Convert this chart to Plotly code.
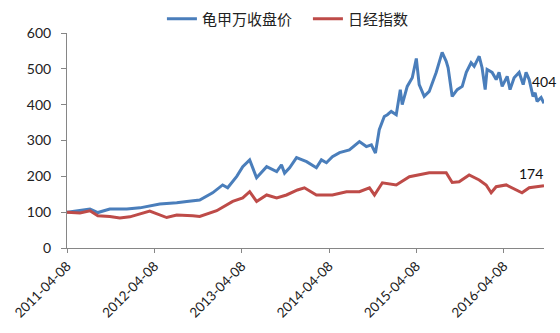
import plotly.graph_objects as go

blue_dates = ["2011-04-08","2011-04-20","2011-06-01","2011-07-13","2011-08-15","2011-10-04","2011-12-14",
              "2012-02-07","2012-04-30","2012-07-10","2012-08-21","2012-10-14","2012-12-07",
              "2013-01-18","2013-02-08","2013-03-18","2013-04-12","2013-05-11","2013-06-09","2013-07-21",
              "2013-09-01","2013-09-21","2013-10-04","2013-10-25","2013-11-23",
              "2014-01-04","2014-02-14","2014-03-07","2014-03-28","2014-04-22","2014-05-22","2014-07-02",
              "2014-08-13","2014-09-11","2014-10-02","2014-10-19","2014-11-04","2014-11-25","2014-12-08",
              "2014-12-24","2015-01-14","2015-01-31","2015-02-08","2015-03-01","2015-03-22","2015-04-08",
              "2015-04-20","2015-05-11","2015-06-01","2015-06-30","2015-07-25","2015-08-11","2015-08-19",
              "2015-09-05","2015-09-26","2015-10-17","2015-11-03","2015-11-23","2015-12-06","2015-12-27",
              "2016-01-08","2016-01-21","2016-01-29","2016-02-19","2016-03-07","2016-03-19","2016-04-01",
              "2016-04-22","2016-05-04","2016-05-21","2016-06-11","2016-06-28","2016-07-10","2016-07-23",
              "2016-08-08","2016-08-17","2016-08-25","2016-09-11","2016-09-23"]
blue_values = [100, 101, 104, 109, 99, 109, 109,
               112, 123, 126, 130, 134, 154,
               176, 168, 200, 227, 246, 196, 227,
               213, 232, 209, 224, 252,
               241, 224, 246, 238, 255, 266, 274,
               297, 283, 288, 265, 330, 367, 372,
               381, 372, 442, 400, 451, 475, 529,
               456, 423, 437, 490, 546, 521, 503,
               423, 442, 451, 490, 517, 507, 535,
               503, 442, 498, 490, 470, 490, 451,
               479, 442, 475, 490, 456, 490, 470,
               423, 433, 409, 420, 404]

red_dates = ["2011-04-08","2011-06-01","2011-07-13","2011-08-15","2011-10-04","2011-11-15","2011-12-27",
             "2012-03-19","2012-05-29","2012-07-10","2012-09-15","2012-10-14","2012-12-24",
             "2013-03-01","2013-04-12","2013-05-11","2013-06-09","2013-07-21","2013-09-01","2013-10-12",
             "2013-11-27","2013-12-26","2014-02-14","2014-04-22","2014-06-20","2014-08-13","2014-09-24",
             "2014-10-15","2014-11-17","2015-01-14","2015-03-10","2015-06-01","2015-08-11","2015-09-05",
             "2015-10-04","2015-11-15","2015-12-27","2016-01-25","2016-02-15","2016-03-07","2016-04-18",
             "2016-05-13","2016-06-23","2016-07-23","2016-08-21","2016-09-23"]
red_values = [100, 98, 104, 90, 88, 84, 87,
              103, 85, 92, 90, 88, 104,
              130, 140, 157, 130, 148, 140, 148,
              162, 168, 148, 148, 157, 157, 168,
              148, 182, 176, 199, 210, 210, 183,
              185, 204, 190, 176, 154, 171, 176,
              168, 154, 168, 171, 174]

tick_dates = ["2011-04-08", "2012-04-08", "2013-04-08", "2014-04-08", "2015-04-08", "2016-04-08"]
y_ticks = [0, 100, 200, 300, 400, 500, 600]

FONT = "Lato, 'Noto Sans CJK SC', sans-serif"
BLUE = "#4A7EBB"
RED = "#BE4B48"

fig = go.Figure()
fig.add_trace(go.Scatter(x=blue_dates, y=blue_values, mode="lines", name="龟甲万收盘价",
                         line=dict(color=BLUE, width=3)))
fig.add_trace(go.Scatter(x=red_dates, y=red_values, mode="lines", name="日经指数",
                         line=dict(color=RED, width=3)))

fig.add_annotation(x=blue_dates[-1], y=blue_values[-1], text=str(blue_values[-1]), showarrow=False,
                   yshift=22, xshift=0, font=dict(family=FONT, size=14, color="#111"))
fig.add_annotation(x=red_dates[-1], y=red_values[-1], text=str(red_values[-1]), showarrow=False,
                   yshift=12, xshift=-13, font=dict(family=FONT, size=14, color="#111"))

fig.update_layout(
    width=560, height=333,
    margin=dict(l=67, r=16, t=33, b=85, autoexpand=False),
    paper_bgcolor="white", plot_bgcolor="white",
    font=dict(family=FONT, size=13, color="#222"),
    showlegend=True,
    legend=dict(orientation="h", x=0.199, xanchor="left", y=1.065, yanchor="middle",
                font=dict(family=FONT, size=15, color="#222"), itemwidth=30,
                entrywidth=101, bgcolor="rgba(0,0,0,0)"),
    xaxis=dict(type="date", range=["2011-04-08", "2016-09-23"], tickvals=tick_dates, ticktext=tick_dates,
               tickangle=-45, showgrid=False, zeroline=False, showline=True, linecolor="#868686",
               linewidth=1, ticks="outside", ticklen=4, tickcolor="#868686",
               tickfont=dict(family=FONT, size=13.5, color="#222")),
    yaxis=dict(range=[0, 600], tickvals=y_ticks, showgrid=False, zeroline=False, showline=True,
               linecolor="#868686", linewidth=1, ticks="outside", ticklen=5, tickcolor="#868686",
               ticklabelstandoff=7,
               tickfont=dict(family=FONT, size=14, color="#222")),
)

fig.write_html("out.html")
